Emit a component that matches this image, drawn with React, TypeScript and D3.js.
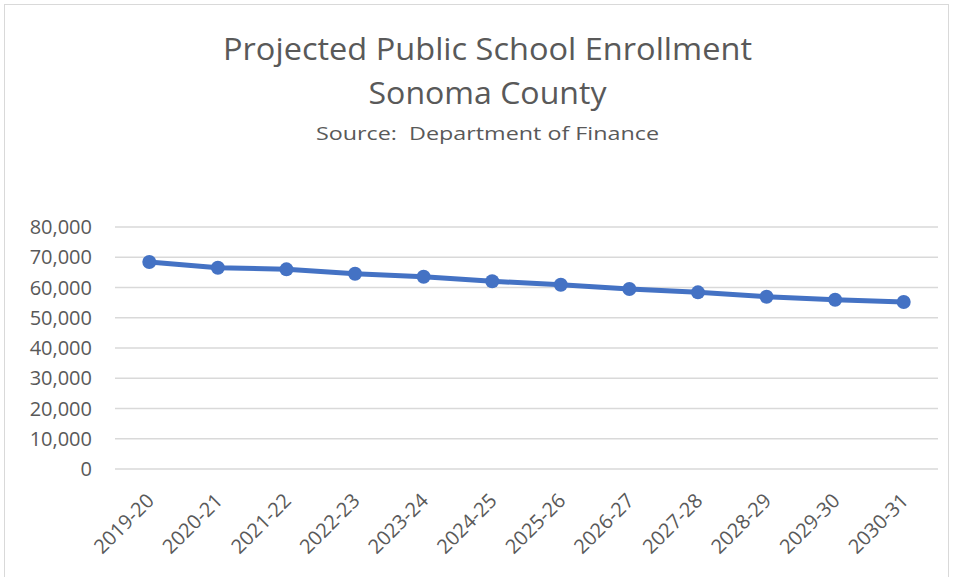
import React, { useEffect, useRef } from "react";
import * as d3 from "d3";

const years = ["2019-20", "2020-21", "2021-22", "2022-23", "2023-24", "2024-25",
  "2025-26", "2026-27", "2027-28", "2028-29", "2029-30", "2030-31"];
const enrollment = [68430, 66550, 66000, 64560, 63570, 62050,
  60930, 59500, 58400, 56960, 55970, 55200];
const yTicks = [0, 10000, 20000, 30000, 40000, 50000, 60000, 70000, 80000];

const W = 956;
const H = 577;

export default function App() {
  const ref = useRef<SVGSVGElement>(null);

  useEffect(() => {
    const svg = d3.select(ref.current);
    svg.selectAll("*").remove();

    const margin = { top: 227, right: 18, bottom: 108, left: 115 };
    const font = "'Open Sans', Lato, sans-serif";
    const grey = "#595959";

    svg.append("rect")
      .attr("x", 4.5).attr("y", 4.5)
      .attr("width", 944).attr("height", 580)
      .attr("fill", "white").attr("stroke", "#d9d9d9");

    const x = d3.scaleBand()
      .domain(years)
      .range([margin.left, W - margin.right]);

    const y = d3.scaleLinear()
      .domain([0, 80000])
      .range([H - margin.bottom, margin.top]);

    // titles
    const t = svg.append("g").attr("fill", grey).attr("font-family", font).attr("text-anchor", "middle");
    t.append("text").attr("x", 487.5).attr("y", 60).attr("font-size", 31.5)
      .attr("textLength", 529).attr("lengthAdjust", "spacingAndGlyphs")
      .text("Projected Public School Enrollment");
    t.append("text").attr("x", 487.5).attr("y", 104).attr("font-size", 31.5)
      .attr("textLength", 238).attr("lengthAdjust", "spacingAndGlyphs")
      .text("Sonoma County");
    t.append("text").attr("x", 487.5).attr("y", 140).attr("font-size", 18.5)
      .attr("textLength", 343).attr("lengthAdjust", "spacingAndGlyphs")
      .style("white-space", "pre")
      .text("Source:  Department of Finance");

    // gridlines
    svg.append("g")
      .selectAll("line")
      .data(yTicks)
      .enter()
      .append("line")
      .attr("x1", margin.left)
      .attr("x2", W - margin.right)
      .attr("y1", d => y(d))
      .attr("y2", d => y(d))
      .attr("stroke", "#d9d9d9")
      .attr("stroke-width", 1.5);

    // y labels
    svg.append("g")
      .selectAll("text")
      .data(yTicks)
      .enter()
      .append("text")
      .attr("x", 92)
      .attr("y", d => y(d))
      .attr("dy", "0.36em")
      .attr("text-anchor", "end")
      .attr("font-family", font)
      .attr("font-size", 20)
      .attr("fill", grey)
      .text(d => d3.format(",")(d));

    // x labels
    svg.append("g")
      .selectAll("text")
      .data(years)
      .enter()
      .append("text")
      .attr("transform", d => `translate(${x(d)! + x.bandwidth() / 2 + 6},${H - margin.bottom + 33}) rotate(-45)`)
      .attr("text-anchor", "end")
      .attr("font-family", font)
      .attr("font-size", 20)
      .attr("fill", grey)
      .text(d => d);

    const cx = (i: number) => x(years[i])! + x.bandwidth() / 2;

    const line = d3.line<number>()
      .x((d, i) => cx(i))
      .y(d => y(d));

    svg.append("path")
      .datum(enrollment)
      .attr("d", line)
      .attr("fill", "none")
      .attr("stroke", "#4472C4")
      .attr("stroke-width", 5)
      .attr("stroke-linejoin", "round");

    svg.append("g")
      .selectAll("circle")
      .data(enrollment)
      .enter()
      .append("circle")
      .attr("cx", (d, i) => cx(i))
      .attr("cy", d => y(d))
      .attr("r", 7)
      .attr("fill", "#4472C4");
  }, []);

  return (
    <svg ref={ref} width={W} height={H}
      style={{ position: "absolute", left: 0, top: 0, display: "block" }} />
  );
}
